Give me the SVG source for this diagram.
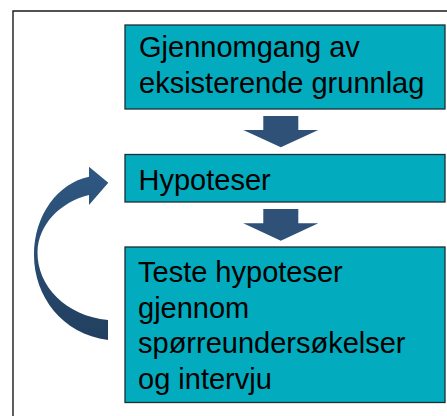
<svg xmlns="http://www.w3.org/2000/svg" width="447" height="416" viewBox="0 0 447 416">
<style>
.box{fill:#02abbd;stroke:#1c2e33;stroke-width:1.3}
.t{font-family:"Liberation Sans",Arial,sans-serif;font-size:29px;fill:#000}
.arr{fill:#2f5077}
.frame{fill:none;stroke:#1a1a1a;stroke-width:1.4}
</style>
<defs>
<linearGradient id="cg" x1="0" y1="0" x2="0" y2="1">
<stop offset="0" stop-color="#2f5882"/>
<stop offset="1" stop-color="#223f5e"/>
</linearGradient>
</defs>
<rect width="447" height="416" fill="#fff"/>
<path class="frame" d="M13,418 V11 H449"/>
<g id="node1">
<rect class="box" x="125" y="25" width="320" height="84"/>
<text class="t" x="139" y="57">Gjennomgang av</text>
<text class="t" x="139" y="93">eksisterende grunnlag</text>
</g>
<g id="node2">
<rect class="box" x="125" y="154.5" width="320" height="47.5"/>
<text class="t" x="138.5" y="189.5">Hypoteser</text>
</g>
<g id="node3">
<rect class="box" x="125" y="247" width="320" height="155.5"/>
<text class="t" x="138" y="282">Teste hypoteser</text>
<text class="t" x="138" y="317.5">gjennom</text>
<text class="t" x="138" y="353">spørreundersøkelser</text>
<text class="t" x="138" y="388.5">og intervju</text>
</g>
<g id="connectors">
<path class="arr" d="M263.3,116 H298.3 V130 H318.3 L280.8,147.3 L243.3,130 H263.3 Z"/>
<path class="arr" d="M263.3,209 H298.3 V223.3 H318.3 L280.8,240.7 L243.3,223.3 H263.3 Z"/>
<path fill="url(#cg)" d="M108,340 C62,334 34,296 34,255 C34,215 58,183 89,176.7 L89,166.7 L108.3,182.7 L89,205 L89,195 C60,202 38,225 37.5,252 C37,286 66,316 108,320 Z"/>
</g>
</svg>
